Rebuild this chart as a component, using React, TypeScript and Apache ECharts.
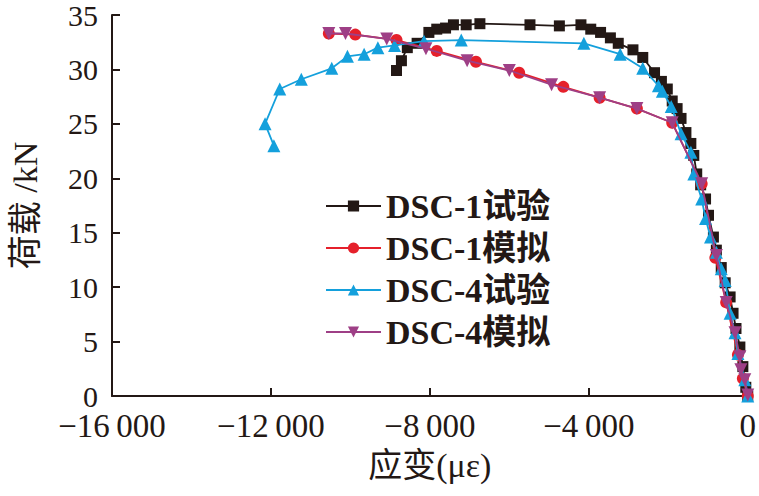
import React, { useEffect, useRef } from "react";
import * as echarts from "echarts";

const seriesNames = ["DSC-1试验", "DSC-1模拟", "DSC-4试验", "DSC-4模拟"];

const dsc1Test: [number, number][] = [
  [0, 0], [-49, 0.8], [-123, 2.7], [-198, 4.5], [-296, 6.2], [-370, 7.6], [-444, 9.1],
  [-568, 10.4], [-667, 11.8], [-790, 13.4], [-864, 14.6], [-988, 16.6], [-1062, 18.1],
  [-1185, 19.4], [-1284, 20.4], [-1358, 22.1], [-1432, 23.2], [-1556, 24.2], [-1679, 25.5],
  [-1778, 26.4], [-1901, 27.1], [-2025, 28.2], [-2173, 28.9], [-2346, 29.7], [-2642, 31.1],
  [-2889, 31.8], [-3259, 32.4], [-3457, 32.9], [-3704, 33.4], [-3951, 33.7], [-4198, 34.1],
  [-4741, 34.0], [-5481, 34.1], [-6741, 34.2], [-7086, 34.1], [-7407, 34.1], [-7605, 33.8],
  [-7827, 33.7], [-8025, 33.4], [-8321, 32.4], [-8568, 32.0], [-8716, 30.8], [-8840, 29.9],
];

const dsc1Sim: [number, number][] = [
  [0, 0], [-123, 1.6], [-247, 3.8], [-543, 8.6], [-815, 12.7], [-1160, 19.5], [-1901, 25.1],
  [-2790, 26.4], [-3728, 27.4], [-4642, 28.4], [-5753, 29.7], [-6840, 30.7], [-7827, 31.7],
  [-8840, 32.7], [-9877, 33.2], [-10543, 33.3],
];

const dsc4Test: [number, number][] = [
  [0, 0], [-74, 1.5], [-247, 3.9], [-321, 5.8], [-444, 7.6], [-568, 10.6], [-667, 11.7],
  [-790, 13.2], [-938, 14.6], [-1062, 16.3], [-1160, 18.1], [-1358, 20.4], [-1432, 22.4],
  [-1679, 24.1], [-1926, 26.6], [-2149, 28.0], [-2247, 28.5], [-2642, 30.1], [-3210, 31.4],
  [-4124, 32.4], [-7210, 32.7], [-8148, 32.6], [-8889, 32.2], [-9309, 32.0], [-9654, 31.4],
  [-10074, 31.2], [-10469, 30.1], [-11235, 29.1], [-11778, 28.2], [-12148, 25.0], [-11926, 23.0],
];

const dsc4Sim: [number, number][] = [
  [0, 0.1], [-74, 1.5], [-173, 2.4], [-198, 3.6], [-321, 5.8], [-543, 8.6], [-790, 12.9],
  [-1160, 19.5], [-1901, 25.1], [-2790, 26.4], [-3728, 27.4], [-4938, 28.6], [-6000, 29.9],
  [-7062, 30.8], [-8099, 31.9], [-9086, 32.8], [-10123, 33.3], [-10543, 33.3],
];

const xTicks = { min: -16000, max: 0, interval: 4000 };
const yTicks = { min: 0, max: 35, interval: 5 };

const colors = ["#231815", "#e5202b", "#14a0dc", "#9e3f86"];
const serif = "'Times New Roman', 'Liberation Serif', 'Noto Sans CJK SC', serif";

function fmtX(v: number): string {
  if (v === 0) return "0";
  const a = Math.abs(v);
  const th = Math.floor(a / 1000);
  const rest = String(a % 1000).padStart(3, "0");
  return (v < 0 ? "\u2212" : "") + th + "\u2009" + rest;
}

export default function App() {
  const ref = useRef<HTMLDivElement>(null);
  useEffect(() => {
    if (!ref.current) return;
    const chart = echarts.init(ref.current, undefined, { renderer: "svg" });
    const datas = [dsc1Test, dsc1Sim, dsc4Test, dsc4Sim];
    const symbols = ["rect", "circle", "triangle", "path://M0,0L10,0L5,9Z"];
    const sizes = [11, 12, 13, 13];
    chart.setOption({
      animation: false,
      backgroundColor: "#ffffff",
      grid: { left: 102, right: 11, top: 15, bottom: 100, containLabel: false },
      legend: {
        orient: "vertical",
        left: 320,
        top: 184,
        itemWidth: 55,
        itemHeight: 14,
        itemGap: 8,
        data: seriesNames,
        textStyle: {
          fontFamily: serif,
          fontWeight: "bold",
          fontSize: 34,
          lineHeight: 34,
          color: "#231815",
          padding: [0, 0, 0, 0],
        },
      },
      xAxis: {
        type: "value",
        min: xTicks.min,
        max: xTicks.max,
        interval: xTicks.interval,
        name: "应变(με)",
        nameLocation: "middle",
        nameGap: 52,
        nameTextStyle: { fontFamily: serif, fontSize: 34, color: "#231815" },
        axisLine: { onZero: false, lineStyle: { color: "#231815", width: 2 } },
        axisTick: { inside: true, length: 8, lineStyle: { color: "#231815", width: 2 } },
        axisLabel: {
          formatter: fmtX,
          fontFamily: serif,
          fontSize: 33,
          color: "#231815",
          margin: 13,
        },
        splitLine: { show: false },
      },
      yAxis: {
        type: "value",
        min: yTicks.min,
        max: yTicks.max,
        interval: yTicks.interval,
        name: "荷载 /kN",
        nameLocation: "middle",
        nameGap: 70,
        nameRotate: 90,
        nameTextStyle: { fontFamily: serif, fontSize: 34, color: "#231815" },
        axisLine: { show: true, onZero: false, lineStyle: { color: "#231815", width: 2 } },
        axisTick: { show: true, inside: true, length: 8, lineStyle: { color: "#231815", width: 2 } },
        axisLabel: { fontFamily: serif, fontSize: 30, lineHeight: 24, color: "#231815", margin: 14 },
        splitLine: { show: false },
      },
      series: seriesNames.map((name, i) => ({
        name,
        type: "line",
        data: datas[i],
        symbol: symbols[i],
        symbolSize: sizes[i],
        showAllSymbol: true,
        color: colors[i],
        lineStyle: { color: colors[i], width: 1.8 },
        itemStyle: { color: colors[i] },
        z: 2 + i,
      })),
    });
    return () => chart.dispose();
  }, []);
  return (
    <div
      ref={ref}
      style={{ position: "absolute", left: 0, top: 0, width: 759, height: 496 }}
    />
  );
}
